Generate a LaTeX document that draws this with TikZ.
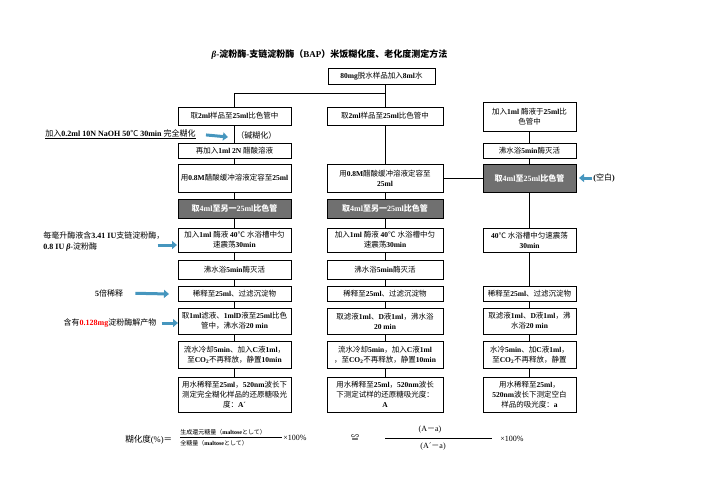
\documentclass[tikz,border=0pt]{standalone}
\usepackage{fontspec}
\setmainfont{Liberation Serif}
\newfontfamily\cjkfont{Noto Sans CJK SC}
\def\cjkswitch{\cjkfont\mdseries}
\def\cjkbold{\def\cjkswitch{\cjkfont}}
\XeTeXinterchartokenstate=1
\newXeTeXintercharclass\cjkclass
\newcount\cjkcnt
\cjkcnt="3000
\loop
  \XeTeXcharclass\cjkcnt=\cjkclass
  \ifnum\cjkcnt<"9FFF \advance\cjkcnt by 1 \repeat
\cjkcnt="FF00
\loop
  \XeTeXcharclass\cjkcnt=\cjkclass
  \ifnum\cjkcnt<"FFEF \advance\cjkcnt by 1 \repeat
\XeTeXcharclass"2103=\cjkclass
\XeTeXcharclass"224C=\cjkclass
\XeTeXinterchartoks 0 \cjkclass = {\begingroup\cjkswitch}
\XeTeXinterchartoks 4095 \cjkclass = {\begingroup\cjkswitch}
\XeTeXinterchartoks \cjkclass 0 = {\endgroup}
\XeTeXinterchartoks \cjkclass 4095 = {\endgroup}
\usepackage{tikz}
\usetikzlibrary{arrows.meta}
\definecolor{hintblue}{RGB}{70,150,190}
\definecolor{boxgray}{RGB}{112,112,112}

\begin{document}
\begin{tikzpicture}[x=1pt,y=-1pt,line width=0.8pt,
    box/.style={draw,align=center,inner xsep=0.5pt,inner ysep=1pt,font=\fontsize{7.5}{10}\selectfont\bfseries},
    colA/.style={box,minimum width=113pt},
    colB/.style={box,minimum width=116pt},
    colC/.style={box,minimum width=93pt},
    grayfill/.style={fill=boxgray,text=white,font=\fontsize{8}{10}\selectfont\bfseries\cjkbold},
    hint/.style={-{Triangle[length=5pt,width=8pt]},draw=hintblue,line width=3pt},
    note/.style={inner sep=0pt,font=\fontsize{8}{11}\selectfont\bfseries},
    plain/.style={inner sep=0pt,font=\fontsize{8}{10}\selectfont}]
  \useasboundingbox (0,0) rectangle (702,496);

  \node[font=\fontsize{9}{11}\selectfont\bfseries\cjkbold] (title) at (329.5,55) {\textit{β}-淀粉酶-支链淀粉酶（BAP）米饭糊化度、老化度测定方法};
  \node[box,minimum width=107pt,minimum height=16pt] (top) at (381.5,76) {80mg脱水样品加入8ml水};

  \node[colA,minimum height=18pt] (b1) at (234.5,116) {取2ml样品至25ml比色管中};
  \node[colA,minimum height=15pt] (b2) at (234.5,150.5) {再加入1ml 2N 醋酸溶液};
  \node[colA,minimum height=28pt] (b3) at (234.5,178) {用0.8M醋酸缓冲溶液定容至25ml};
  \node[colA,grayfill,minimum height=19pt] (b4) at (234.5,208.5) {取4ml至另一25ml比色管};
  \node[colA,minimum height=24pt] (b5) at (234.5,240) {加入1ml 酶液 40℃ 水浴槽中匀\\速震荡30min};
  \node[colA,minimum height=19pt] (b6) at (234.5,269.5) {沸水浴5min酶灭活};
  \node[colA,minimum height=15pt] (b7) at (234.5,293.5) {稀释至25ml、过滤沉淀物};
  \node[colA,minimum height=26pt] (b8) at (234.5,321) {取1ml滤液、1mlD液至25ml比色\\管中，沸水浴20 min};
  \node[colA,minimum height=27pt] (b9) at (234.5,354.5) {流水冷却5min、加入C液1ml，\\至CO\textsubscript{2}不再释放，静置10min};
  \node[colA,minimum height=35pt] (b10) at (234.5,394.5) {用水稀释至25ml，520nm波长下\\测定完全糊化样品的还原糖吸光\\度：A´};

  \node[colB,minimum height=18pt] (c1) at (385,116) {取2ml样品至25ml比色管中};
  \node[colB,minimum height=28pt] (c3) at (385,178) {用0.8M醋酸缓冲溶液定容至\\25ml};
  \node[colB,grayfill,minimum height=19pt] (c4) at (385,208.5) {取4ml至另一25ml比色管};
  \node[colB,minimum height=24pt] (c5) at (385,240) {加入1ml 酶液 40℃ 水浴槽中匀\\速震荡30min};
  \node[colB,minimum height=19pt] (c6) at (385,269.5) {沸水浴5min酶灭活};
  \node[colB,minimum height=15pt] (c7) at (385,293.5) {稀释至25ml、过滤沉淀物};
  \node[colB,minimum height=26pt] (c8) at (385,321) {取滤液1ml、D液1ml，沸水浴\\20 min};
  \node[colB,minimum height=27pt] (c9) at (385,354.5) {流水冷却5min，加入C液1ml\\，至CO\textsubscript{2}不再释放，静置10min};
  \node[colB,minimum height=35pt] (c10) at (385,394.5) {用水稀释至25ml，520nm波长\\下测定试样的还原糖吸光度：\\A};

  \node[colC,minimum height=29pt] (d1) at (529.5,116.5) {加入1ml 酶液于25ml比\\色管中};
  \node[colC,minimum height=15pt] (d2) at (529.5,150.5) {沸水浴5min酶灭活};
  \node[colC,grayfill,minimum height=28pt] (d3) at (529.5,178) {取4ml至25ml比色管};
  \node[colC,minimum height=24pt] (d5) at (529.5,240) {40℃ 水浴槽中匀速震荡\\30min};
  \node[colC,minimum height=15pt] (d7) at (529.5,293.5) {稀释至25ml、过滤沉淀物};
  \node[colC,minimum height=26pt] (d8) at (529.5,321) {取滤液1ml、D液1ml，沸\\水浴20 min};
  \node[colC,minimum height=27pt] (d9) at (529.5,354.5) {水冷5min、加C液1ml，\\至CO\textsubscript{2}不再释放，静置};
  \node[colC,minimum height=35pt] (d10) at (529.5,394.5) {用水稀释至25ml，\\520nm波长下测定空白\\样品的吸光度：a};

  \node[note,anchor=west] (naoh) at (45,134) {\underline{加入0.2ml 10N NaOH 50℃ 30min 完全糊化}};
  \node[note,anchor=west] (alkali) at (236,135) {（碱糊化）};
  \node[note,anchor=west,align=left] (enzyme) at (43,241) {每毫升酶液含3.41 IU支链淀粉酶，\\0.8 IU \textit{β}-淀粉酶};
  \node[note] (dilute) at (109,293) {5倍稀释};
  \node[note] (product) at (110,323) {含有\textcolor{red}{0.128mg}淀粉酶解产物};
  \node[note,anchor=west] (blank) at (593,178) {(空白)};

  \coordinate (split) at (385,93);
  \coordinate (naohtip) at (228,137);
  \coordinate (enzymetip) at (177,245);
  \coordinate (dilutetip) at (169,294);
  \coordinate (producttip) at (178,323);
  \coordinate (blanktip) at (579,178);

  \draw (top.south -| c1) -- (c1);
  \draw (b1.north) |- (split);
  \path (b1) edge (b2)
        (b2) edge (b3)
        (b3) edge (b4)
        (b4) edge (b5)
        (b5) edge (b6)
        (b6) edge (b7)
        (b7) edge (b8)
        (b8) edge (b9)
        (b9) edge (b10)
        (c1) edge (c3)
        (c3) edge (c4)
        (c4) edge (c5)
        (c5) edge (c6)
        (c6) edge (c7)
        (c7) edge (c8)
        (c8) edge (c9)
        (c9) edge (c10)
        (c3) edge (d3)
        (d1) edge (d2)
        (d2) edge (d3)
        (d3) edge (d5)
        (d5) edge (d7)
        (d7) edge (d8)
        (d8) edge (d9)
        (d9) edge (d10);

  \draw[hint,shorten <=10pt] (naoh.east) -- (naohtip);
  \draw[hint,shorten <=-7pt] (enzyme.east |- enzymetip) -- (enzymetip);
  \draw[hint,shorten <=12pt] (dilute.east) -- (dilutetip);
  \draw[hint,shorten <=5pt] (product.east) -- (producttip);
  \draw[hint,shorten <=1pt] (blank.west) -- (blanktip);

  \node[plain,anchor=west,font=\fontsize{8.5}{10}\selectfont] (degree) at (125,440) {糊化度(\%)＝};
  \node[plain,anchor=west,font=\fontsize{6}{7}\selectfont\bfseries] (num) at (180,432) {生成還元糖量（maltoseとして）};
  \node[plain,anchor=west,font=\fontsize{6}{7}\selectfont\bfseries] (den) at (180,443) {全糖量（maltoseとして）};
  \draw[line width=0.6pt] (180,437.5) -- (282,437.5);
  \node[plain,anchor=west] (times1) at (283,438) {×100\%};
  \node[plain] (approx) at (355,438) {≌};
  \node[plain] (upper) at (430,430) {(A－a)};
  \node[plain] (lower) at (433,447) {(A´－a)};
  \draw[line width=0.6pt] (385,438) -- (492,438);
  \node[plain,anchor=west] (times2) at (500,439) {×100\%};
\end{tikzpicture}
\end{document}
